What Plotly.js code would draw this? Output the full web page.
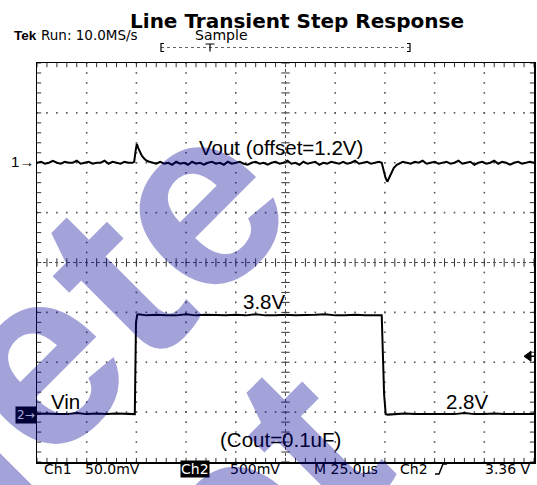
<!DOCTYPE html>
<html><head><meta charset="utf-8">
<script src="https://cdn.plot.ly/plotly-3.0.1.min.js"></script>
<style>html,body{margin:0;padding:0;background:#fff;}#chart{width:537px;height:485px;}</style>
</head><body><div id="chart"></div>
<script>
// ---------------- data ----------------
const chartTitle = "Line Transient Step Response";
const headerTek = "Tek";
const headerRun = "Run: 10.0MS/s";
const headerMode = "Sample";

// Channel 1: Vout (50 mV/div, offset 1.2 V), time in microseconds
const voutTime = [0,2,4,6,8,10,12,14,16,18,20,22,24,26,28,30,32,34,36,38,40,42,44,46,
  48,48.9,49.6,50.2,50.9,51.8,52.7,54,55.2,56.5,58,
  60,62,64,66,68,70,72,74,76,78,80,82,84,86,88,90,92,94,96,98,100,102,104,106,108,110,
  112,114,116,118,120,122,124,126,128,130,132,134,136,138,140,142,144,146,148,150,152,
  154,156,158,160,162,164,166,168,170,172,
  173.4,174.4,175.3,176.2,177.2,178.4,179.5,181,182.6,
  184,186,188,190,192,194,196,198,200,202,204,206,208,210,212,214,216,218,220,222,224,
  226,228,230,232,234,236,238,240,242,244,246,248,250];
const voutVolts = [1.200,1.201,1.199,1.200,1.202,1.200,1.199,1.201,1.200,1.200,1.202,1.199,1.200,1.201,1.199,1.200,1.200,1.202,1.199,1.201,1.200,1.199,1.201,1.200,
  1.200,1.201,1.212,1.219,1.215,1.210,1.207,1.204,1.202,1.201,1.200,
  1.199,1.201,1.199,1.200,1.198,1.201,1.199,1.200,1.198,1.201,1.199,1.200,1.198,1.200,1.201,1.199,1.200,1.198,1.201,1.199,1.200,1.201,1.199,1.198,1.200,1.201,
  1.199,1.200,1.198,1.200,1.201,1.199,1.200,1.202,1.199,1.200,1.198,1.201,1.199,1.200,1.201,1.198,1.200,1.199,1.201,1.200,1.199,
  1.201,1.199,1.200,1.202,1.199,1.200,1.201,1.199,1.200,1.201,
  1.200,1.192,1.185,1.181,1.185,1.190,1.195,1.198,1.200,
  1.201,1.200,1.199,1.201,1.200,1.202,1.199,1.200,1.201,1.199,1.200,1.201,1.199,1.200,1.202,1.199,1.200,1.201,1.198,1.200,1.201,
  1.199,1.200,1.202,1.199,1.201,1.200,1.198,1.200,1.201,1.199,1.200,1.201,1.200];

// Channel 2: Vin (500 mV/div), volts
const vinTime = [0,5,10,15,20,25,30,35,40,45,49.2,49.5,49.8,50.4,51.2,
  55,60,65,70,75,80,85,90,95,100,105,110,115,120,125,130,135,140,145,150,155,160,165,170,
  173.4,174.6,175.4,176.5,180,185,190,195,200,205,210,215,220,225,230,235,240,245,250];
const vinVolts = [2.78,2.785,2.78,2.78,2.79,2.78,2.785,2.78,2.785,2.78,2.78,3.25,3.70,3.775,3.78,
  3.77,3.775,3.77,3.77,3.78,3.77,3.775,3.77,3.77,3.775,3.77,3.78,3.77,3.77,3.775,3.77,3.77,3.775,3.78,3.77,3.77,3.775,3.77,3.77,
  3.77,2.98,2.78,2.775,2.78,2.785,2.78,2.78,2.785,2.78,2.78,2.79,2.78,2.78,2.785,2.78,2.78,2.785,2.78];

// annotation texts
const labelVout = "Vout (offset=1.2V)";
const labelHigh = "3.8V";
const labelLow = "2.8V";
const labelCout = "(Cout=0.1uF)";
const labelVin = "Vin";
const statusCh1 = "Ch1", statusCh1Scale = "50.0mV";
const statusCh2 = "Ch2", statusCh2Scale = "500mV";
const statusTime = "M 25.0µs", statusTrigSrc = "Ch2", statusTrigLevel = "3.36 V";
const triggerLevel = 3.36;
const watermark1 = "Delete", watermark2 = "Delet";

// ---------------- scope scales ----------------
const tDiv = 25, nDivX = 10;           // 25 us/div
const ch1Div = 0.05, ch1Center = 1.1;  // Vout axis
const ch2Div = 0.5,  ch2Center = 4.3;  // Vin axis
const nDivY = 8;

// ---------------- geometry helpers (pixel -> paper) ----------------
const W = 537, H = 485, L = 37, R = 534, T = 63, B = 462;
const px = x => (x - L) / (R - L);
const py = y => (B - y) / (B - T);

// grid dots
const gx = [], gy = [];
const y1Bot = ch1Center - ch1Div * nDivY / 2;
for (let i = 1; i < nDivX; i++) { if (i === nDivX / 2) continue;
  for (let j = 0; j <= nDivY * 5; j++) { gx.push(i * tDiv); gy.push(y1Bot + j * ch1Div / 5); } }
for (let k = 1; k < nDivY; k++) { if (k === nDivY / 2) continue;
  for (let j = 0; j <= nDivX * 5; j++) { gx.push(j * tDiv / 5); gy.push(y1Bot + k * ch1Div); } }
// ticks
const hx = [], hy = [], vx = [], vy = [];
[0, nDivX * tDiv / 2, nDivX * tDiv].forEach(xv => {
  for (let j = 0; j <= nDivY * 5; j++) { hx.push(xv); hy.push(y1Bot + j * ch1Div / 5); } });
[y1Bot, ch1Center, y1Bot + nDivY * ch1Div].forEach(yv => {
  for (let j = 0; j <= nDivX * 5; j++) { vx.push(j * tDiv / 5); vy.push(yv); } });

const traces = [
  {x: gx, y: gy, mode: 'markers', type: 'scatter', hoverinfo: 'skip',
   marker: {symbol: 'square', size: 1.6, color: '#555'}},
  {x: hx, y: hy, mode: 'markers', type: 'scatter', hoverinfo: 'skip',
   marker: {symbol: 'line-ew', size: 6, line: {width: 1, color: '#333'}}},
  {x: vx, y: vy, mode: 'markers', type: 'scatter', hoverinfo: 'skip',
   marker: {symbol: 'line-ns', size: 6, line: {width: 1, color: '#333'}}},
  {x: vinTime, y: vinVolts, yaxis: 'y2', mode: 'lines', type: 'scatter',
   line: {color: '#000', width: 2}},
  {x: voutTime, y: voutVolts, mode: 'lines', type: 'scatter',
   line: {color: '#000', width: 2}}
];

const ar = 'Liberation Sans, Arial, sans-serif';
const dj = 'DejaVu Sans, sans-serif';
function txt(text, xPix, yMid, size, family, anchor, extra) {
  return Object.assign({text: text, xref: 'paper', yref: 'paper', x: px(xPix), y: py(yMid),
    xanchor: anchor || 'center', yanchor: 'middle', showarrow: false,
    font: {family: family, size: size, color: '#000'}}, extra || {});
}

const annotations = [
  txt(headerTek, 12, 35.5, 13.5, ar, 'left', {font: {family: ar, size: 13.5, color: '#000', weight: 'bold'}}),
  txt(headerRun, 39, 35, 13.5, dj, 'left'),
  txt(headerMode, 193, 35, 14, dj, 'left'),
  txt(labelVout, 281, 147, 20.5, ar),
  txt(labelHigh, 263.5, 301, 20.5, ar),
  txt(labelLow, 466.5, 401, 20.5, ar),
  txt(labelCout, 280, 439.5, 20.5, ar),
  txt(labelVin, 65, 401.5, 20.5, ar),
  txt("1→", 36, 161.5, 15, ar, 'right'),
  txt("2→", 26, 414.5, 12, dj, 'center', {bgcolor: '#000', font: {family: dj, size: 12, color: '#fff'}, borderpad: 1}),
  txt(statusCh1, 41.5, 468.5, 14, dj, 'left'),
  txt(statusCh1Scale, 83, 468.5, 14, dj, 'left'),
  txt(statusCh2, 195, 469, 14, dj, 'center', {bgcolor: '#000', font: {family: dj, size: 14, color: '#fff'}, borderpad: 0}),
  txt(statusCh2Scale, 228, 468.5, 14, dj, 'left'),
  txt(statusTime, 312, 468.5, 14, dj, 'left'),
  txt(statusTrigSrc, 398, 468.5, 14, dj, 'left'),
  txt(statusTrigLevel, 533, 468.5, 14, dj, 'right'),
  // watermark overlay
  {text: watermark1, xref: 'paper', yref: 'paper', x: px(-27), y: py(421), xanchor: 'center', yanchor: 'middle',
   showarrow: false, textangle: -45, font: {family: ar, size: 254, weight: 'bold', color: 'rgba(0,0,150,0.36)'}},
  {text: watermark2, xref: 'paper', yref: 'paper', x: px(118), y: py(631), xanchor: 'center', yanchor: 'middle',
   showarrow: false, textangle: -45, font: {family: ar, size: 254, weight: 'bold', color: 'rgba(0,0,150,0.36)'}}
];

const shapes = [
  // centre crosshair
  {type: 'line', xref: 'x', yref: 'paper', x0: nDivX * tDiv / 2, x1: nDivX * tDiv / 2, y0: 0, y1: 1,
   line: {color: '#555', width: 1, dash: 'dot'}},
  {type: 'line', xref: 'paper', yref: 'y', x0: 0, x1: 1, y0: ch1Center, y1: ch1Center,
   line: {color: '#555', width: 1, dash: 'dot'}},
  // record bracket
  {type: 'line', xref: 'paper', yref: 'paper', x0: px(161), x1: px(410), y0: py(47.5), y1: py(47.5),
   line: {color: '#666', width: 1, dash: 'dot'}},
  {type: 'path', xref: 'paper', yref: 'paper',
   path: `M${px(164)},${py(43.5)} L${px(161)},${py(43.5)} L${px(161)},${py(51.5)} L${px(164)},${py(51.5)}`,
   line: {color: '#000', width: 1.2}},
  {type: 'path', xref: 'paper', yref: 'paper',
   path: `M${px(407)},${py(43.5)} L${px(410)},${py(43.5)} L${px(410)},${py(51.5)} L${px(407)},${py(51.5)}`,
   line: {color: '#000', width: 1.2}},
  {type: 'path', xref: 'paper', yref: 'paper',
   path: `M${px(205.5)},${py(44)} L${px(214.5)},${py(44)} M${px(210)},${py(44)} L${px(210)},${py(51.5)}`,
   line: {color: '#000', width: 1.2}},
  // trigger slope symbol
  {type: 'path', xref: 'paper', yref: 'paper',
   path: `M${px(435)},${py(474)} L${px(439)},${py(474)} L${px(443)},${py(464)} L${px(447)},${py(464)}`,
   line: {color: '#000', width: 1.5}},
  // trigger level arrow on channel 2
  {type: 'path', xref: 'paper', yref: 'y2',
   path: `M${px(524)},${triggerLevel} L${px(531)},${triggerLevel + 0.05} L${px(531)},${triggerLevel - 0.05} Z`,
   fillcolor: '#000', line: {color: '#000', width: 1}},
  {type: 'line', xref: 'paper', yref: 'y2', x0: px(528), x1: px(534), y0: triggerLevel, y1: triggerLevel,
   line: {color: '#000', width: 1.5}}
];

const axisCommon = {showgrid: false, zeroline: false, showticklabels: false, ticks: '', fixedrange: true};
const layout = {
  width: W, height: H, margin: {l: L, r: W - R, t: T, b: H - B, pad: 0},
  paper_bgcolor: '#fff', plot_bgcolor: '#fff', showlegend: false,
  title: {text: chartTitle, xref: 'container', yref: 'container', x: 297 / W, y: 1 - 20.5 / H,
          xanchor: 'center', yanchor: 'middle',
          font: {family: dj, size: 20, color: '#000', weight: 'bold'}},
  xaxis: Object.assign({range: [0, nDivX * tDiv], showline: true, mirror: true, linecolor: '#000', linewidth: 1.5}, axisCommon),
  yaxis: Object.assign({range: [ch1Center - ch1Div * nDivY / 2, ch1Center + ch1Div * nDivY / 2],
                        showline: true, mirror: true, linecolor: '#000', linewidth: 1.5}, axisCommon),
  yaxis2: Object.assign({range: [ch2Center - ch2Div * nDivY / 2, ch2Center + ch2Div * nDivY / 2],
                         overlaying: 'y', showline: false}, axisCommon),
  annotations: annotations, shapes: shapes
};

Plotly.newPlot('chart', traces, layout, {displayModeBar: false, staticPlot: true});
</script></body></html>
